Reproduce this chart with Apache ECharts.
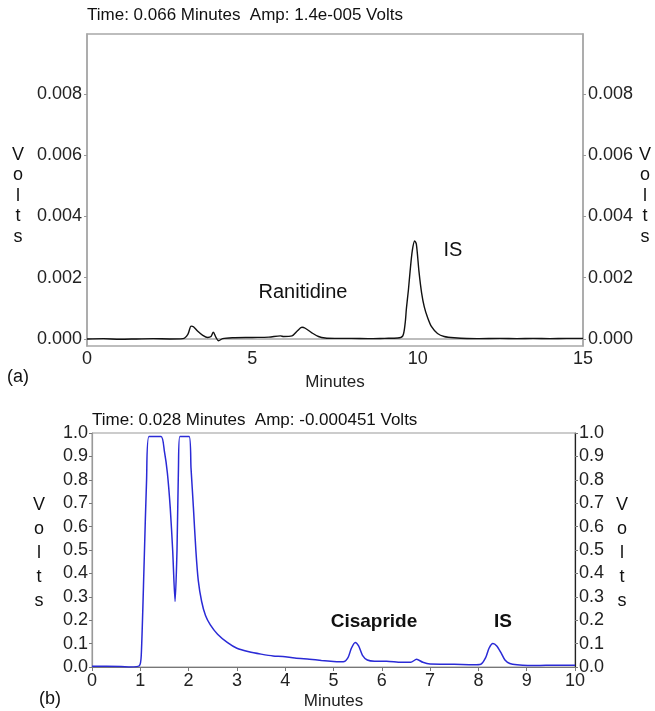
<!DOCTYPE html>
<html>
<head>
<meta charset="utf-8">
<script src="https://cdn.jsdelivr.net/npm/echarts@6/dist/echarts.min.js"></script>
<style>
  html, body { margin: 0; padding: 0; background: #fff; }
  #chart { width: 655px; height: 711px; }
</style>
</head>
<body>
<div id="chart"></div>
<script>
// (a) ranitidine run, black trace
const timesA = [0, 0.5, 1.0, 1.5, 2.0, 2.5, 2.9, 3.05, 3.15, 3.22, 3.35, 3.5, 3.65, 3.75, 3.82, 3.9, 3.98, 4.1, 4.4, 5.0, 5.5, 5.85, 5.95, 6.2, 6.35, 6.5, 6.6, 6.8, 7.0, 7.2, 7.5, 8.0, 8.5, 9.0, 9.4, 9.55, 9.62, 9.66, 9.72, 9.77, 9.84, 9.91, 9.96, 10.04, 10.12, 10.2, 10.3, 10.42, 10.6, 10.8, 11.1, 11.8, 12.5, 13.0, 13.5, 14.0, 14.5, 15.0];
const voltsA = [0.00000, 0.00001, -0.00001, 0.00000, 0.00001, 0.00000, 0.00001, 0.00015, 0.00042, 0.00040, 0.00025, 0.00012, 0.00005, 0.00008, 0.00022, 0.00005, -0.00006, 0.00001, 0.00004, 0.00005, 0.00006, 0.00010, 0.00008, 0.00010, 0.00025, 0.00038, 0.00035, 0.00020, 0.00008, 0.00003, 0.00002, 0.00002, 0.00001, 0.00002, 0.00003, 0.00010, 0.00050, 0.00100, 0.00160, 0.00220, 0.00290, 0.00320, 0.00310, 0.00220, 0.00150, 0.00105, 0.00070, 0.00040, 0.00018, 0.00008, 0.00004, 0.00001, 0.00002, 0.00001, 0.00002, 0.00001, 0.00002, 0.00002];

// (b) cisapride run, blue trace
const timesB = [0, 0.3, 0.6, 0.8, 0.98, 1.02, 1.08, 1.13, 1.18, 1.43, 1.5, 1.56, 1.62, 1.67, 1.72, 1.76, 1.79, 1.82, 2.01, 2.05, 2.1, 2.15, 2.2, 2.27, 2.35, 2.45, 2.6, 2.8, 3.0, 3.25, 3.5, 3.75, 3.95, 4.2, 4.5, 4.75, 5.0, 5.2, 5.3, 5.37, 5.45, 5.52, 5.6, 5.7, 5.85, 6.1, 6.4, 6.6, 6.72, 6.85, 7.0, 7.5, 7.9, 8.05, 8.15, 8.22, 8.3, 8.38, 8.47, 8.55, 8.65, 8.8, 9.2, 9.6, 10.0];
const voltsB = [0.003, 0.003, 0.002, 0.0, 0.005, 0.05, 0.45, 0.8, 0.985, 0.985, 0.92, 0.83, 0.68, 0.5, 0.28, 0.5, 0.85, 0.985, 0.985, 0.85, 0.68, 0.5, 0.37, 0.28, 0.22, 0.18, 0.14, 0.105, 0.08, 0.065, 0.055, 0.047, 0.045, 0.038, 0.033, 0.028, 0.024, 0.022, 0.04, 0.08, 0.105, 0.09, 0.05, 0.03, 0.025, 0.025, 0.02, 0.02, 0.033, 0.02, 0.013, 0.012, 0.01, 0.012, 0.04, 0.08, 0.1, 0.09, 0.06, 0.03, 0.015, 0.01, 0.006, 0.008, 0.008];

const ticksA = [0, 0.002, 0.004, 0.006, 0.008];

const titleA = 'Time: 0.066 Minutes  Amp: 1.4e-005 Volts';
const titleB = 'Time: 0.028 Minutes  Amp: -0.000451 Volts';

const font = '"Liberation Sans", Arial, sans-serif';
const chart = echarts.init(document.getElementById('chart'));

function zip(xs, ys) {
  return xs.map((x, i) => [x, ys[i]]);
}

function yAxisA(pos) {
  return {
    type: 'value', gridIndex: 0, position: pos,
    min: -0.00023, max: 0.00996,
    splitLine: { show: false },
    axisLine: { show: true, lineStyle: { color: '#a8a8a8', width: 1.5 } },
    axisTick: { show: true, length: 3, customValues: ticksA, lineStyle: { color: '#999' } },
    axisLabel: {
      customValues: ticksA, margin: 5, color: '#222', fontSize: 18, fontFamily: font,
      formatter: v => v.toFixed(3)
    }
  };
}

function yAxisB(pos, lineColor) {
  return {
    type: 'value', gridIndex: 1, position: pos,
    min: 0, max: 1, interval: 0.1,
    splitLine: { show: false },
    axisLine: { show: true, lineStyle: { color: lineColor, width: 1.2 } },
    axisTick: { show: true, length: 3, lineStyle: { color: '#777' } },
    axisLabel: {
      margin: 4, color: '#222', fontSize: 18, fontFamily: font,
      formatter: v => v.toFixed(1)
    }
  };
}

// plain text placed on the canvas
const txt = (x, y, text, size, weight, align, lh) => ({
  type: 'text', x: x, y: y,
  style: {
    text: text, fill: '#111', font: (weight || 'normal') + ' ' + size + 'px ' + font,
    align: align || 'center', verticalAlign: 'middle', lineHeight: lh || size + 2
  }
});

const option = {
  animation: false,
  backgroundColor: '#fff',
  grid: [
    { left: 87, right: 72, top: 34, height: 312, show: true, borderColor: '#a8a8a8', borderWidth: 1.5 },
    { left: 92, right: 80, top: 433, height: 240, show: true, borderColor: '#999', borderWidth: 1 }
  ],
  xAxis: [
    {
      type: 'value', gridIndex: 0, min: 0, max: 15, interval: 5,
      splitLine: { show: false },
      axisLine: { lineStyle: { color: '#a8a8a8', width: 1.5 } },
      axisTick: { show: false },
      axisLabel: { margin: 4, color: '#222', fontSize: 18, fontFamily: font },
      name: 'Minutes', nameLocation: 'middle', nameGap: 28,
      nameTextStyle: { color: '#222', fontSize: 17, fontFamily: font }
    },
    {
      type: 'value', gridIndex: 1, min: 0, max: 10, interval: 1,
      splitLine: { show: false },
      axisLine: { lineStyle: { color: '#777', width: 1.2 } },
      axisTick: { show: true, length: 4, lineStyle: { color: '#777' } },
      axisLabel: { margin: 5, color: '#222', fontSize: 18, fontFamily: font },
      name: 'Minutes', nameLocation: 'middle', nameGap: 26,
      nameTextStyle: { color: '#222', fontSize: 17, fontFamily: font }
    }
  ],
  yAxis: [
    yAxisA('left'),
    yAxisA('right'),
    yAxisB('left', '#999'),
    yAxisB('right', '#222')
  ],
  series: [
    {
      type: 'line', xAxisIndex: 0, yAxisIndex: 0,
      data: zip(timesA, voltsA),
      smooth: 0.3, showSymbol: false,
      lineStyle: { color: '#111', width: 1.4 }
    },
    {
      type: 'line', xAxisIndex: 1, yAxisIndex: 2,
      data: zip(timesB, voltsB),
      smooth: 0.25, showSymbol: false,
      lineStyle: { color: '#2a2ad6', width: 1.5 }
    }
  ],
  graphic: [
    txt(87, 15, titleA, 17, 'normal', 'left'),
    txt(92, 420, titleB, 17, 'normal', 'left'),
    txt(18, 196, 'V\no\nl\nt\ns', 18, 'normal', 'center', 20.5),
    txt(645, 196, 'V\no\nl\nt\ns', 18, 'normal', 'center', 20.5),
    txt(39, 553, 'V\no\nl\nt\ns', 18, 'normal', 'center', 24),
    txt(622, 553, 'V\no\nl\nt\ns', 18, 'normal', 'center', 24),
    txt(303, 292, 'Ranitidine', 20),
    txt(453, 250, 'IS', 20),
    txt(374, 622, 'Cisapride', 19, 'bold'),
    txt(503, 622, 'IS', 19, 'bold'),
    txt(18, 377, '(a)', 18),
    txt(50, 699, '(b)', 18)
  ]
};

chart.setOption(option);
</script>
</body>
</html>
